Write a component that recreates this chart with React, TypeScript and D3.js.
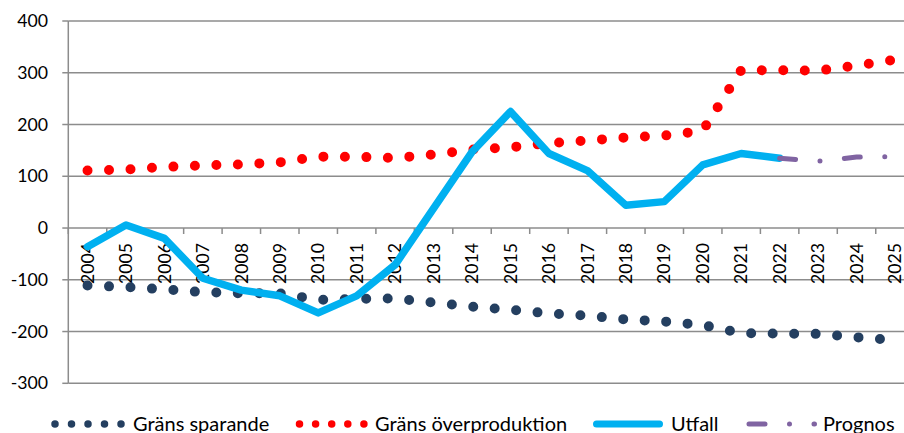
import React, { useEffect, useRef } from 'react';
import * as d3 from 'd3';

const years = [
  '2004', '2005', '2006', '2007', '2008', '2009', '2010', '2011', '2012', '2013', '2014',
  '2015', '2016', '2017', '2018', '2019', '2020', '2021', '2022', '2023', '2024', '2025',
];

const gransSparande = [
  -111, -114, -118.5, -124, -126, -126, -139, -137, -136, -144, -152,
  -158, -165, -169.5, -176.5, -180.5, -187.5, -203, -204, -204.5, -211, -216.5,
];

const gransOverproduktion = [
  111, 113, 118, 121, 123, 127, 138, 137.5, 135.5, 142, 151.5,
  156, 164, 169, 175, 178.5, 188, 305, 305, 304, 314, 325,
];

// Utfall covers 2004-2022, Prognos 2022-2025
const utfall = [-36, 6, -20, -97, -120, -131, -164, -131, -71, 38, 147, 225, 144, 111, 44, 51, 122, 144, 135];
const prognos = [135, 129, 137, 138];

const yTicks = [-300, -200, -100, 0, 100, 200, 300, 400];

const legendLabels = ['Gräns sparande', 'Gräns överproduktion', 'Utfall', 'Prognos'];

const FONT = 'Lato, "Open Sans", sans-serif';

const App: React.FC = () => {
  const chartRef = useRef<SVGSVGElement | null>(null);

  useEffect(() => {
    if (!chartRef.current) return;
    const width = 904;
    const height = 433;

    d3.select(chartRef.current).selectAll('*').remove();
    const svg = d3.select(chartRef.current).attr('width', width).attr('height', height);

    const x = d3.scaleBand<string>().domain(years).range([68.3, 914.2]);
    const y = d3.scaleLinear().domain([-300, 400]).range([383.3, 21]);
    const cx = (d: string) => (x(d) ?? 0) + x.bandwidth() / 2;
    const left = x.range()[0];
    const right = x.range()[1];

    // gridlines
    svg
      .append('g')
      .selectAll('line')
      .data(yTicks)
      .join('line')
      .attr('x1', left)
      .attr('x2', right)
      .attr('y1', (d) => y(d))
      .attr('y2', (d) => y(d))
      .attr('stroke', '#8c8c8c')
      .attr('stroke-width', 1.5);

    // y axis
    const yAxis = svg.append('g');
    yAxis
      .append('line')
      .attr('x1', left)
      .attr('x2', left)
      .attr('y1', y(400))
      .attr('y2', y(-300))
      .attr('stroke', '#8c8c8c')
      .attr('stroke-width', 1.5);
    yAxis
      .selectAll('line.tick')
      .data(yTicks)
      .join('line')
      .attr('class', 'tick')
      .attr('x1', left - 6)
      .attr('x2', left)
      .attr('y1', (d) => y(d))
      .attr('y2', (d) => y(d))
      .attr('stroke', '#8c8c8c')
      .attr('stroke-width', 1.5);
    yAxis
      .selectAll('text')
      .data(yTicks)
      .join('text')
      .attr('x', 48)
      .attr('y', (d) => y(d))
      .attr('dy', '0.35em')
      .attr('text-anchor', 'end')
      .style('font-family', FONT)
      .style('font-size', '17.7px')
      .style('fill', '#000')
      .text((d) => d);

    // x axis ticks at band edges, on the zero line
    const edges = [...years.map((d) => x(d) ?? 0), right];
    svg
      .append('g')
      .selectAll('line')
      .data(edges)
      .join('line')
      .attr('x1', (d) => d)
      .attr('x2', (d) => d)
      .attr('y1', y(0))
      .attr('y2', y(0) + 6)
      .attr('stroke', '#8c8c8c')
      .attr('stroke-width', 1.5);

    svg
      .append('g')
      .selectAll('text')
      .data(years)
      .join('text')
      .attr('transform', (d) => `translate(${cx(d)}, ${y(0) + 15}) rotate(-90)`)
      .attr('dy', '0.35em')
      .attr('text-anchor', 'end')
      .style('font-family', FONT)
      .style('font-size', '17.7px')
      .style('fill', '#000')
      .text((d) => d);

    const line = (offset: number) =>
      d3
        .line<number>()
        .x((_, i) => cx(years[i + offset]))
        .y((d) => y(d));

    // Gräns sparande
    svg
      .append('path')
      .attr('d', line(0)(gransSparande))
      .attr('fill', 'none')
      .attr('stroke', '#243F60')
      .attr('stroke-width', 10)
      .attr('stroke-linecap', 'round')
      .attr('stroke-dasharray', '0 21.5');

    // Gräns överproduktion
    svg
      .append('path')
      .attr('d', line(0)(gransOverproduktion))
      .attr('fill', 'none')
      .attr('stroke', '#FF0000')
      .attr('stroke-width', 10)
      .attr('stroke-linecap', 'round')
      .attr('stroke-dasharray', '0 21.5');

    // Utfall
    svg
      .append('path')
      .attr('d', line(0)(utfall))
      .attr('fill', 'none')
      .attr('stroke', '#00B0F0')
      .attr('stroke-width', 7.5)
      .attr('stroke-linejoin', 'round')
      .attr('stroke-linecap', 'round');

    // Prognos
    svg
      .append('path')
      .attr('d', line(18)(prognos))
      .attr('fill', 'none')
      .attr('stroke', '#8064A2')
      .attr('stroke-width', 5)
      .attr('stroke-linecap', 'round')
      .attr('stroke-dasharray', '16 24.5 0 24.5');

    // Legend
    const legendY = 424;
    const sampleX = [55, 299.5, 596.5, 749];
    const textX = [133, 375, 671, 823];
    const legend = svg.append('g');
    const samples = [
      { color: '#243F60', w: 7.5, dash: '0 16.5', len: 66.5 },
      { color: '#FF0000', w: 7.5, dash: '0 16.1', len: 64.8 },
      { color: '#00B0F0', w: 7, dash: null, len: 63 },
      { color: '#8064A2', w: 5, dash: '16 24.5 0 24.5', len: 65.5 },
    ];
    samples.forEach((s, i) => {
      legend
        .append('line')
        .attr('x1', sampleX[i])
        .attr('x2', sampleX[i] + s.len)
        .attr('y1', legendY)
        .attr('y2', legendY)
        .attr('stroke', s.color)
        .attr('stroke-width', s.w)
        .attr('stroke-linecap', 'round')
        .attr('stroke-dasharray', s.dash);
      legend
        .append('text')
        .attr('x', textX[i])
        .attr('y', 430.5)
        .style('font-family', FONT)
        .style('font-size', '20px')
        .style('fill', '#000')
        .text(legendLabels[i]);
    });
  }, []);

  return (
    <svg
      ref={chartRef}
      style={{ position: 'absolute', left: 0, top: 0, display: 'block', background: '#fff' }}
    ></svg>
  );
};

export default App;
